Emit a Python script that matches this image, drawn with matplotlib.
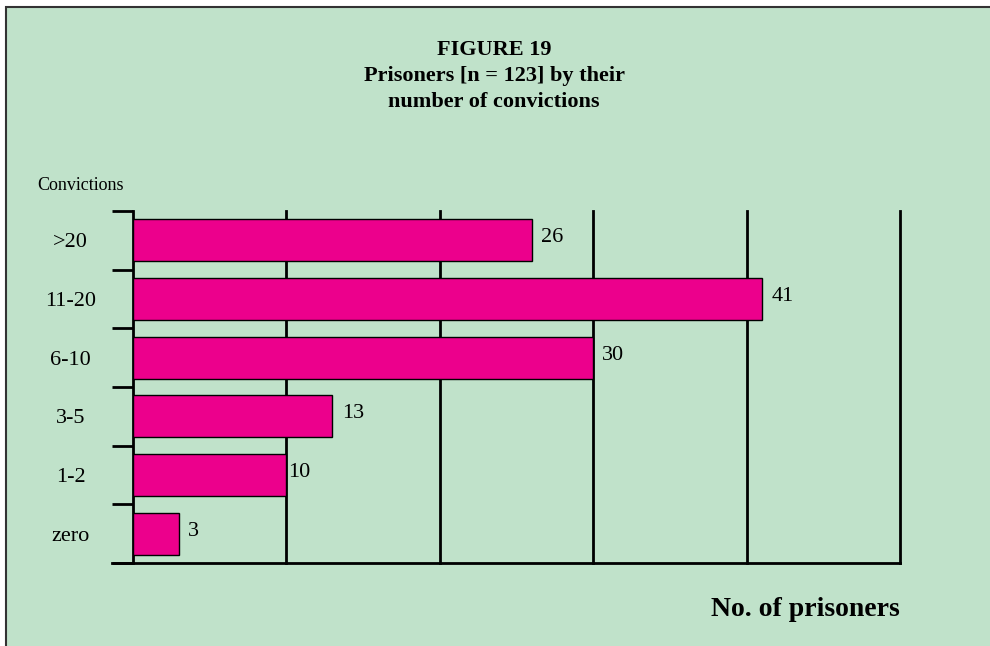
import matplotlib.pyplot as plt
from matplotlib.patches import Rectangle

categories = [">20", "11-20", "6-10", "3-5", "1-2", "zero"]
prisoners = [26, 41, 30, 13, 10, 3]
grid_values = [0, 10, 20, 30, 40, 50]

BG = "#c0e2ca"
BAR = "#ec008c"
SERIF = ["Liberation Serif", "DejaVu Serif"]

fig = plt.figure(figsize=(9.9, 6.46), dpi=100)
fig.patch.set_facecolor("white")

W, H = 990, 646
# green panel, border only shows on top and left
fig.add_artist(Rectangle((6 / W, -0.1), 1.2, 1.1 - 7 / H, transform=fig.transFigure,
                         facecolor=BG, edgecolor="#333333", linewidth=1.5,
                         zorder=0))

ax = fig.add_axes([133 / W, 1 - 563 / H, (900 - 133) / W, (563 - 211) / H])
ax.set_facecolor("none")

n = len(categories)
ypos = list(range(n))
ax.barh(ypos, prisoners, height=0.72, color=BAR, edgecolor="black",
        linewidth=1, zorder=3)
ax.set_ylim(n - 0.5, -0.5)
ax.set_xlim(0, 50)

for v in grid_values[1:]:
    ax.axvline(v, color="black", linewidth=2, zorder=1, clip_on=False)

for y, v in zip(ypos, prisoners):
    off = 0.12 if v == 10 else 0.6
    ax.text(v + off, y - 0.04, str(v), va="center", ha="left",
            fontsize=16, family=SERIF, zorder=4)

for s in ["top", "right"]:
    ax.spines[s].set_visible(False)
ax.spines["left"].set_linewidth(2)
ax.spines["bottom"].set_linewidth(2)
ax.spines["bottom"].set_bounds(-1.4, 50)
ax.spines["bottom"].set_clip_on(False)

ax.set_xticks([])
ax.set_yticks([b - 0.5 for b in range(n + 1)])
ax.set_yticklabels([])
ax.tick_params(axis="y", length=15, width=2, direction="out")
ax.set_yticks(ypos, minor=True)
ax.set_yticklabels(categories, minor=True, fontsize=16, family=SERIF)
ax.tick_params(axis="y", which="minor", length=0, pad=45)
for lbl in ax.get_yticklabels(minor=True):
    lbl.set_horizontalalignment("center")

fig.text(494 / W, 1 - 76 / H, "FIGURE 19\nPrisoners [n = 123] by their\nnumber of convictions",
         ha="center", va="center", fontsize=16, fontweight="bold",
         family=SERIF, linespacing=1.4)
fig.text(37 / W, 1 - 186 / H, "Convictions", ha="left", va="center",
         fontsize=13, family=SERIF)
fig.text(900 / W, 1 - 609 / H, "No. of prisoners", ha="right", va="center",
         fontsize=20, fontweight="bold", family=SERIF)

fig.savefig("out.png", dpi=100, facecolor=fig.get_facecolor())
